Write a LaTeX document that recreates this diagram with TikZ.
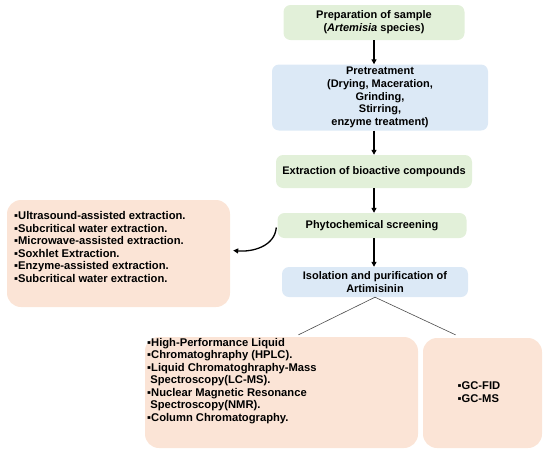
\documentclass[tikz,border=0pt]{standalone}
\usepackage{fontspec}
\setmainfont{Liberation Sans}
\usetikzlibrary{arrows.meta}
\definecolor{boxgreen}{HTML}{E2F0D9}
\definecolor{boxblue}{HTML}{DCE9F6}
\definecolor{boxpeach}{HTML}{FBE4D6}
\begin{document}
\begin{tikzpicture}[x=1pt,y=-1pt,
  every node/.style={font=\fontsize{11}{12.8}\selectfont\bfseries},
  box/.style={rounded corners=7pt, inner sep=0pt, align=center},
  bigbox/.style={rounded corners=14pt, inner sep=0pt, fill=boxpeach},
  listtext/.style={inner sep=0pt, align=left, anchor=north west, font=\fontsize{11.2}{12.5}\selectfont\bfseries},
  flow/.style={-{Triangle[length=5pt,width=5pt]}, line width=1.8pt, black},
  split/.style={draw=black!70, line width=0.6pt}
]
\useasboundingbox (0,0) rectangle (550,456);

\node[box, fill=boxgreen, minimum width=181, minimum height=35] (prep) at (374,22.5)
  {Preparation of sample\\(\textit{Artemisia} species)};
\node[box, fill=boxblue, minimum width=216, minimum height=66] (pre) at (380,97.5)
  {Pretreatment\\(Drying, Maceration,\\Grinding,\\Stirring,\\enzyme treatment)};
\node[box, fill=boxgreen, minimum width=196, minimum height=33] (ext) at (374,171.5)
  {Extraction of bioactive compounds};
\node[box, fill=boxgreen, minimum width=189, minimum height=25] (phy) at (372,225.5)
  {Phytochemical screening};
\node[box, fill=boxblue, minimum width=186, minimum height=30] (iso) at (375,282)
  {Isolation and purification of\\Artimisinin};

\node[bigbox, minimum width=223, minimum height=107] (ext list) at (118.5,253.5) {};
\node[listtext] (ext text) at (14,211.5)
  {▪Ultrasound-assisted extraction.\\
   ▪Subcritical water extraction.\\
   ▪Microwave-assisted extraction.\\
   ▪Soxhlet Extraction.\\
   ▪Enzyme-assisted extraction.\\
   ▪Subcritical water extraction.};

\node[bigbox, minimum width=273, minimum height=111] (lc) at (281.5,392.5) {};
\node[listtext] (lc text) at (147,338)
  {▪High-Performance Liquid\\
   ▪Chromatoghraphy (HPLC).\\
   ▪Liquid Chromatoghraphy-Mass\\
   \ Spectroscopy(LC-MS).\\
   ▪Nuclear Magnetic Resonance\\
   \ Spectroscopy(NMR).\\
   ▪Column Chromatography.};

\node[bigbox, minimum width=119, minimum height=110] (gc) at (482.5,393) {};
\node[inner sep=0pt, align=left, font=\fontsize{11.2}{12.5}\selectfont\bfseries] (gc text) at (479,392) {▪GC-FID\\▪GC-MS};

\draw[flow] (prep.south) -- (prep.south |- pre.north);
\draw[flow] (pre.south -| prep.south) -- (prep.south |- ext.north);
\draw[flow] (ext.south -| prep.south) -- (prep.south |- phy.north);
\draw[flow] (phy.south -| prep.south) -- (prep.south |- iso.north);

\draw[-{Triangle[length=5pt,width=5pt]}, line width=1.3pt]
  ([xshift=-1pt,yshift=-2pt]phy.west) to[out=-95, in=-5] ([xshift=3pt,yshift=3pt]ext list.east);

\coordinate (lc end) at ([xshift=17pt,yshift=2pt]lc.north);
\coordinate (gc end) at ([xshift=-27pt,yshift=3pt]gc.north);
\draw[split] (iso.south) -- (lc end);
\draw[split] (iso.south) -- (gc end);
\end{tikzpicture}
\end{document}
